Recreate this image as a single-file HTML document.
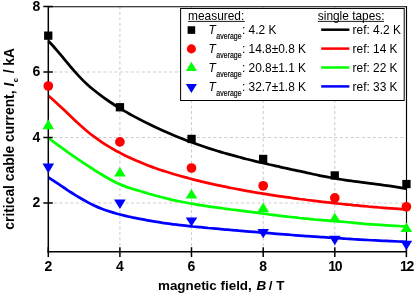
<!DOCTYPE html>
<html><head><meta charset="utf-8"><title>chart</title>
<style>html,body{margin:0;padding:0;background:#fff;width:415px;height:294px;overflow:hidden}</style></head>
<body>
<svg width="415" height="294" viewBox="0 0 415 294" style="position:absolute;left:0;top:0;will-change:transform;font-family:'Liberation Sans',sans-serif">
<rect width="415" height="294" fill="#fff"/>
<g stroke="#cecece" stroke-width="1.1" stroke-dasharray="3.1,2.4" fill="none"><line x1="119.9" y1="6.5" x2="119.9" y2="251.7"/><line x1="191.5" y1="6.5" x2="191.5" y2="251.7"/><line x1="263.2" y1="6.5" x2="263.2" y2="251.7"/><line x1="334.8" y1="6.5" x2="334.8" y2="251.7"/><line x1="48.3" y1="203.0" x2="406.4" y2="203.0"/><line x1="48.3" y1="137.5" x2="406.4" y2="137.5"/><line x1="48.3" y1="72.0" x2="406.4" y2="72.0"/></g>
<path d="M48.4,41.0 C49.7,42.4 53.5,46.4 56.0,49.3 C58.6,52.2 61.1,55.3 63.6,58.3 C66.2,61.4 68.7,64.5 71.2,67.5 C73.8,70.5 76.3,73.4 78.9,76.1 C81.4,78.8 83.9,81.4 86.5,83.7 C89.0,86.1 91.5,88.2 94.1,90.3 C96.6,92.3 99.2,94.3 101.7,96.1 C104.2,98.0 106.8,99.8 109.3,101.5 C111.8,103.2 114.4,104.9 116.9,106.5 C119.5,108.1 122.0,109.6 124.5,111.1 C127.1,112.5 129.6,114.0 132.1,115.4 C134.7,116.8 137.2,118.1 139.8,119.4 C142.3,120.8 144.8,122.1 147.4,123.3 C149.9,124.6 152.4,125.8 155.0,127.0 C157.5,128.2 160.1,129.4 162.6,130.5 C165.1,131.7 167.7,132.8 170.2,133.8 C172.7,134.9 175.3,136.0 177.8,137.0 C180.4,138.0 182.9,139.0 185.4,140.0 C188.0,141.0 190.5,141.9 193.0,142.8 C195.6,143.8 198.1,144.7 200.7,145.5 C203.2,146.4 205.7,147.3 208.3,148.1 C210.8,148.9 213.3,149.7 215.9,150.5 C218.4,151.3 221.0,152.0 223.5,152.8 C226.0,153.5 228.6,154.2 231.1,154.9 C233.6,155.6 236.2,156.3 238.7,157.0 C241.3,157.7 243.8,158.3 246.3,159.0 C248.9,159.6 251.4,160.2 253.9,160.9 C256.5,161.5 259.0,162.1 261.6,162.7 C264.1,163.3 266.6,163.9 269.2,164.5 C271.7,165.0 274.2,165.6 276.8,166.2 C279.3,166.8 281.9,167.3 284.4,167.9 C286.9,168.4 289.5,169.0 292.0,169.6 C294.5,170.1 297.1,170.7 299.6,171.2 C302.2,171.8 304.7,172.3 307.2,172.9 C309.8,173.4 312.3,174.0 314.8,174.5 C317.4,175.0 319.9,175.6 322.5,176.1 C325.0,176.6 327.5,177.1 330.1,177.5 C332.6,178.0 335.1,178.5 337.7,178.9 C340.2,179.3 342.8,179.7 345.3,180.1 C347.8,180.5 350.4,180.8 352.9,181.2 C355.4,181.5 358.0,181.9 360.5,182.2 C363.1,182.5 365.6,182.8 368.1,183.1 C370.7,183.4 373.2,183.8 375.7,184.1 C378.3,184.4 380.8,184.7 383.4,185.1 C385.9,185.4 388.4,185.8 391.0,186.1 C393.5,186.5 396.0,186.9 398.6,187.3 C401.1,187.8 404.9,188.5 406.2,188.7" fill="none" stroke="#000000" stroke-width="2.75" stroke-linecap="butt"/>
<path d="M48.4,95.7 C49.7,96.8 53.5,100.1 56.0,102.4 C58.6,104.7 61.1,107.1 63.6,109.5 C66.2,112.0 68.7,114.4 71.2,116.8 C73.8,119.2 76.3,121.7 78.9,124.0 C81.4,126.3 83.9,128.5 86.5,130.7 C89.0,132.8 91.5,134.8 94.1,136.7 C96.6,138.6 99.2,140.4 101.7,142.1 C104.2,143.8 106.8,145.4 109.3,146.9 C111.8,148.5 114.4,149.9 116.9,151.3 C119.5,152.6 122.0,153.9 124.5,155.2 C127.1,156.4 129.6,157.6 132.1,158.8 C134.7,159.9 137.2,161.0 139.8,162.1 C142.3,163.2 144.8,164.2 147.4,165.2 C149.9,166.1 152.4,167.1 155.0,168.0 C157.5,168.9 160.1,169.8 162.6,170.6 C165.1,171.4 167.7,172.2 170.2,173.0 C172.7,173.8 175.3,174.6 177.8,175.3 C180.4,176.0 182.9,176.7 185.4,177.4 C188.0,178.1 190.5,178.7 193.0,179.4 C195.6,180.0 198.1,180.7 200.7,181.3 C203.2,181.9 205.7,182.5 208.3,183.1 C210.8,183.7 213.3,184.3 215.9,184.8 C218.4,185.4 221.0,185.9 223.5,186.4 C226.0,187.0 228.6,187.5 231.1,188.0 C233.6,188.5 236.2,189.0 238.7,189.4 C241.3,189.9 243.8,190.4 246.3,190.8 C248.9,191.3 251.4,191.7 253.9,192.2 C256.5,192.6 259.0,193.0 261.6,193.4 C264.1,193.8 266.6,194.2 269.2,194.6 C271.7,195.0 274.2,195.4 276.8,195.8 C279.3,196.2 281.9,196.5 284.4,196.9 C286.9,197.3 289.5,197.6 292.0,198.0 C294.5,198.3 297.1,198.6 299.6,199.0 C302.2,199.3 304.7,199.6 307.2,200.0 C309.8,200.3 312.3,200.6 314.8,200.9 C317.4,201.2 319.9,201.5 322.5,201.8 C325.0,202.1 327.5,202.4 330.1,202.7 C332.6,203.0 335.1,203.2 337.7,203.5 C340.2,203.8 342.8,204.1 345.3,204.3 C347.8,204.6 350.4,204.8 352.9,205.1 C355.4,205.3 358.0,205.6 360.5,205.8 C363.1,206.1 365.6,206.3 368.1,206.5 C370.7,206.7 373.2,207.0 375.7,207.2 C378.3,207.4 380.8,207.6 383.4,207.8 C385.9,208.0 388.4,208.2 391.0,208.4 C393.5,208.6 396.0,208.8 398.6,208.9 C401.1,209.1 404.9,209.4 406.2,209.5" fill="none" stroke="#ff0000" stroke-width="2.75" stroke-linecap="butt"/>
<path d="M48.4,138.0 C49.7,139.0 53.5,141.9 56.0,143.7 C58.6,145.6 61.1,147.4 63.6,149.2 C66.2,151.1 68.7,152.8 71.2,154.6 C73.8,156.4 76.3,158.1 78.9,159.8 C81.4,161.5 83.9,163.2 86.5,164.8 C89.0,166.5 91.5,168.1 94.1,169.8 C96.6,171.4 99.2,173.0 101.7,174.5 C104.2,176.1 106.8,177.6 109.3,179.0 C111.8,180.4 114.4,181.8 116.9,183.0 C119.5,184.2 122.0,185.2 124.5,186.1 C127.1,187.1 129.6,187.9 132.1,188.7 C134.7,189.5 137.2,190.2 139.8,191.0 C142.3,191.8 144.8,192.5 147.4,193.3 C149.9,194.0 152.4,194.8 155.0,195.5 C157.5,196.2 160.1,196.9 162.6,197.5 C165.1,198.1 167.7,198.7 170.2,199.3 C172.7,199.9 175.3,200.5 177.8,201.0 C180.4,201.5 182.9,202.0 185.4,202.5 C188.0,203.0 190.5,203.5 193.0,203.9 C195.6,204.3 198.1,204.8 200.7,205.2 C203.2,205.6 205.7,206.0 208.3,206.3 C210.8,206.7 213.3,207.1 215.9,207.4 C218.4,207.8 221.0,208.1 223.5,208.5 C226.0,208.8 228.6,209.1 231.1,209.5 C233.6,209.8 236.2,210.1 238.7,210.4 C241.3,210.8 243.8,211.1 246.3,211.4 C248.9,211.7 251.4,212.1 253.9,212.4 C256.5,212.7 259.0,213.0 261.6,213.4 C264.1,213.7 266.6,214.0 269.2,214.4 C271.7,214.7 274.2,215.0 276.8,215.3 C279.3,215.6 281.9,216.0 284.4,216.3 C286.9,216.6 289.5,216.9 292.0,217.2 C294.5,217.4 297.1,217.7 299.6,218.0 C302.2,218.2 304.7,218.5 307.2,218.7 C309.8,219.0 312.3,219.2 314.8,219.5 C317.4,219.7 319.9,219.9 322.5,220.1 C325.0,220.3 327.5,220.6 330.1,220.8 C332.6,221.0 335.1,221.2 337.7,221.4 C340.2,221.6 342.8,221.8 345.3,222.0 C347.8,222.3 350.4,222.5 352.9,222.7 C355.4,222.9 358.0,223.2 360.5,223.4 C363.1,223.6 365.6,223.9 368.1,224.1 C370.7,224.3 373.2,224.5 375.7,224.7 C378.3,224.9 380.8,225.1 383.4,225.2 C385.9,225.4 388.4,225.5 391.0,225.6 C393.5,225.7 396.0,225.8 398.6,226.0 C401.1,226.2 404.9,226.6 406.2,226.7" fill="none" stroke="#00ff00" stroke-width="2.75" stroke-linecap="butt"/>
<path d="M48.4,177.3 C49.7,178.1 53.5,180.7 56.0,182.4 C58.6,184.0 61.1,185.8 63.6,187.5 C66.2,189.2 68.7,190.9 71.2,192.5 C73.8,194.1 76.3,195.8 78.9,197.3 C81.4,198.8 83.9,200.3 86.5,201.6 C89.0,203.0 91.5,204.3 94.1,205.4 C96.6,206.6 99.2,207.7 101.7,208.7 C104.2,209.7 106.8,210.5 109.3,211.4 C111.8,212.2 114.4,213.0 116.9,213.7 C119.5,214.4 122.0,215.0 124.5,215.6 C127.1,216.3 129.6,216.8 132.1,217.4 C134.7,217.9 137.2,218.4 139.8,218.9 C142.3,219.4 144.8,219.9 147.4,220.3 C149.9,220.8 152.4,221.2 155.0,221.6 C157.5,222.0 160.1,222.4 162.6,222.8 C165.1,223.1 167.7,223.5 170.2,223.8 C172.7,224.2 175.3,224.5 177.8,224.8 C180.4,225.1 182.9,225.4 185.4,225.7 C188.0,226.0 190.5,226.2 193.0,226.5 C195.6,226.7 198.1,227.0 200.7,227.2 C203.2,227.5 205.7,227.7 208.3,228.0 C210.8,228.2 213.3,228.4 215.9,228.6 C218.4,228.9 221.0,229.1 223.5,229.3 C226.0,229.5 228.6,229.8 231.1,230.0 C233.6,230.2 236.2,230.4 238.7,230.7 C241.3,230.9 243.8,231.1 246.3,231.3 C248.9,231.5 251.4,231.7 253.9,231.9 C256.5,232.2 259.0,232.4 261.6,232.6 C264.1,232.8 266.6,233.0 269.2,233.2 C271.7,233.4 274.2,233.6 276.8,233.8 C279.3,234.0 281.9,234.2 284.4,234.4 C286.9,234.6 289.5,234.8 292.0,235.0 C294.5,235.2 297.1,235.4 299.6,235.6 C302.2,235.8 304.7,235.9 307.2,236.1 C309.8,236.3 312.3,236.5 314.8,236.7 C317.4,236.9 319.9,237.0 322.5,237.2 C325.0,237.4 327.5,237.5 330.1,237.7 C332.6,237.9 335.1,238.0 337.7,238.2 C340.2,238.4 342.8,238.5 345.3,238.7 C347.8,238.8 350.4,239.0 352.9,239.2 C355.4,239.3 358.0,239.5 360.5,239.6 C363.1,239.7 365.6,239.9 368.1,240.0 C370.7,240.2 373.2,240.3 375.7,240.4 C378.3,240.6 380.8,240.7 383.4,240.8 C385.9,240.9 388.4,241.1 391.0,241.2 C393.5,241.3 396.0,241.4 398.6,241.5 C401.1,241.6 404.9,241.8 406.2,241.8" fill="none" stroke="#0000ff" stroke-width="2.75" stroke-linecap="butt"/>
<g stroke="#000" fill="none">
<line x1="48.3" y1="6.0" x2="48.3" y2="252.4" stroke-width="1.5"/>
<line x1="47.5" y1="251.7" x2="406.9" y2="251.7" stroke-width="1.5"/>
<line x1="48.3" y1="6.7" x2="407.0" y2="6.7" stroke-width="1.15"/>
<line x1="406.5" y1="6.5" x2="406.5" y2="251.7" stroke-width="1.15"/>
<line x1="48.3" y1="247.2" x2="48.3" y2="257.1" stroke-width="1.5"/>
<line x1="119.9" y1="247.2" x2="119.9" y2="257.1" stroke-width="1.5"/>
<line x1="191.5" y1="247.2" x2="191.5" y2="257.1" stroke-width="1.5"/>
<line x1="263.2" y1="247.2" x2="263.2" y2="257.1" stroke-width="1.5"/>
<line x1="334.8" y1="247.2" x2="334.8" y2="257.1" stroke-width="1.5"/>
<line x1="406.4" y1="247.2" x2="406.4" y2="257.1" stroke-width="1.5"/>
<line x1="43.3" y1="203.0" x2="52.8" y2="203.0" stroke-width="1.5"/>
<line x1="43.3" y1="137.5" x2="52.8" y2="137.5" stroke-width="1.5"/>
<line x1="43.3" y1="72.0" x2="52.8" y2="72.0" stroke-width="1.5"/>
<line x1="43.3" y1="6.5" x2="52.8" y2="6.5" stroke-width="1.5"/>
</g>
<rect x="44.1" y="31.5" width="8.3" height="8.3" fill="#000"/>
<rect x="115.8" y="103.1" width="8.3" height="8.3" fill="#000"/>
<rect x="187.4" y="134.8" width="8.3" height="8.3" fill="#000"/>
<rect x="259.0" y="154.8" width="8.3" height="8.3" fill="#000"/>
<rect x="330.6" y="171.3" width="8.3" height="8.3" fill="#000"/>
<rect x="402.3" y="179.9" width="8.3" height="8.3" fill="#000"/>
<circle cx="48.3" cy="86.0" r="4.85" fill="#f00"/>
<circle cx="119.9" cy="141.9" r="4.85" fill="#f00"/>
<circle cx="191.5" cy="168.0" r="4.85" fill="#f00"/>
<circle cx="263.2" cy="185.8" r="4.85" fill="#f00"/>
<circle cx="334.8" cy="197.9" r="4.85" fill="#f00"/>
<circle cx="406.4" cy="206.8" r="4.85" fill="#f00"/>
<path d="M48.3,119.6 L54.1,129.2 L42.5,129.2 Z" fill="#0f0"/>
<path d="M119.9,167.0 L125.7,176.6 L114.1,176.6 Z" fill="#0f0"/>
<path d="M191.5,188.9 L197.3,198.5 L185.7,198.5 Z" fill="#0f0"/>
<path d="M263.2,202.6 L269.0,211.9 L257.4,211.9 Z" fill="#0f0"/>
<path d="M334.8,212.7 L340.6,222.1 L329.0,222.1 Z" fill="#0f0"/>
<path d="M406.4,222.6 L412.2,232.0 L400.6,232.0 Z" fill="#0f0"/>
<path d="M48.3,173.2 L54.1,163.6 L42.5,163.6 Z" fill="#00f"/>
<path d="M119.9,208.9 L125.7,199.4 L114.1,199.4 Z" fill="#00f"/>
<path d="M191.5,226.6 L197.3,217.4 L185.7,217.4 Z" fill="#00f"/>
<path d="M263.2,238.3 L269.0,228.9 L257.4,228.9 Z" fill="#00f"/>
<path d="M334.8,245.2 L340.6,235.7 L329.0,235.7 Z" fill="#00f"/>
<path d="M406.4,250.2 L412.2,240.7 L400.6,240.7 Z" fill="#00f"/>
<g font-weight="bold" font-size="14px" fill="#000">
<text x="48.3" y="270.6" text-anchor="middle">2</text>
<text x="119.9" y="270.6" text-anchor="middle">4</text>
<text x="191.5" y="270.6" text-anchor="middle">6</text>
<text x="263.2" y="270.6" text-anchor="middle">8</text>
<text x="334.8" y="270.6" text-anchor="middle" letter-spacing="-1.3">10</text>
<text x="406.4" y="270.6" text-anchor="middle" letter-spacing="-1.3">12</text>
<text x="40.3" y="207.0" text-anchor="end">2</text>
<text x="40.3" y="141.5" text-anchor="end">4</text>
<text x="40.3" y="76.0" text-anchor="end">6</text>
<text x="40.3" y="10.5" text-anchor="end">8</text>
</g>
<text x="158" y="290.4" font-weight="bold" font-size="13.4px">magnetic field, <tspan font-style="italic" dx="1.1">B</tspan><tspan dx="-1.2"> / T</tspan></text>
<text transform="translate(14.3,229.7) rotate(-90)" font-weight="bold" font-size="13.85px">critical cable current, <tspan font-style="italic">I</tspan><tspan font-size="7.6px" dy="3.6" dx="0.4">c</tspan><tspan dy="-3.6" dx="0.9"> / kA</tspan></text>
<rect x="180.6" y="8.5" width="223.6" height="92.0" fill="#fff" stroke="#000" stroke-width="1"/>
<g font-size="11.9px" fill="#000">
<text x="188.1" y="19.6">measured:</text>
<line x1="188.1" y1="21.4" x2="244.8" y2="21.4" stroke="#000" stroke-width="0.9"/>
<text x="317.8" y="19.6">single tapes:</text>
<line x1="317.8" y1="21.4" x2="384" y2="21.4" stroke="#000" stroke-width="0.9"/>
<text x="208.6" y="34.0"><tspan font-style="italic">T</tspan><tspan font-size="8.2px" dy="5.2" dx="0.5" stroke="#000" stroke-width="0.18" textLength="25.3" lengthAdjust="spacingAndGlyphs">average</tspan><tspan dy="-5.2" dx="0.3">: 4.2 K</tspan></text>
<line x1="321.2" y1="29.7" x2="349.4" y2="29.7" stroke="#000" stroke-width="2.5"/>
<text x="352.6" y="34.0">ref: 4.2 K</text>
<text x="208.6" y="52.9"><tspan font-style="italic">T</tspan><tspan font-size="8.2px" dy="5.2" dx="0.5" stroke="#000" stroke-width="0.18" textLength="25.3" lengthAdjust="spacingAndGlyphs">average</tspan><tspan dy="-5.2" dx="0.3">: 14.8±0.8 K</tspan></text>
<line x1="321.2" y1="48.6" x2="349.4" y2="48.6" stroke="#f00" stroke-width="2.5"/>
<text x="352.6" y="52.9">ref: 14 K</text>
<text x="208.6" y="71.8"><tspan font-style="italic">T</tspan><tspan font-size="8.2px" dy="5.2" dx="0.5" stroke="#000" stroke-width="0.18" textLength="25.3" lengthAdjust="spacingAndGlyphs">average</tspan><tspan dy="-5.2" dx="0.3">: 20.8±1.1 K</tspan></text>
<line x1="321.2" y1="67.5" x2="349.4" y2="67.5" stroke="#0f0" stroke-width="2.5"/>
<text x="352.6" y="71.8">ref: 22 K</text>
<text x="208.6" y="90.7"><tspan font-style="italic">T</tspan><tspan font-size="8.2px" dy="5.2" dx="0.5" stroke="#000" stroke-width="0.18" textLength="25.3" lengthAdjust="spacingAndGlyphs">average</tspan><tspan dy="-5.2" dx="0.3">: 32.7±1.8 K</tspan></text>
<line x1="321.2" y1="86.4" x2="349.4" y2="86.4" stroke="#00f" stroke-width="2.5"/>
<text x="352.6" y="90.7">ref: 33 K</text>
</g>
<rect x="187.60" y="26.25" width="7.6" height="7.6" fill="#000"/>
<circle cx="191.4" cy="48.9" r="4.55" fill="#f00"/>
<path d="M191.4,61.8 L196.9,71 L185.9,71 Z" fill="#0f0"/>
<path d="M191.4,93 L196.9,84 L185.9,84 Z" fill="#00f"/>
</svg>
</body></html>
